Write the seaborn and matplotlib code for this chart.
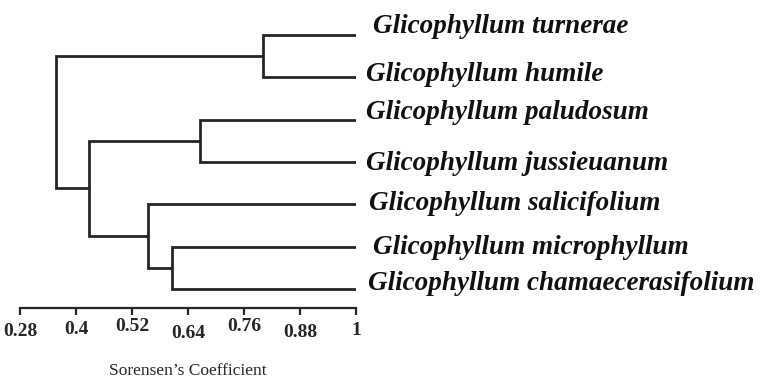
import matplotlib
matplotlib.use("Agg")
import matplotlib.pyplot as plt
import matplotlib.transforms as mtransforms
import seaborn as sns
import pandas as pd

# ---- data ----
leaves = ["Glicophyllum turnerae", "Glicophyllum humile", "Glicophyllum paludosum",
          "Glicophyllum jussieuanum", "Glicophyllum salicifolium",
          "Glicophyllum microphyllum", "Glicophyllum chamaecerasifolium"]
# merges: node ids 0-6 are leaves, new clusters numbered from 7
merge_left = [0, 2, 5, 4, 8, 7]
merge_right = [1, 3, 6, 9, 10, 11]
merge_height = [0.800, 0.665, 0.605, 0.554, 0.428, 0.357]
tick_values = [0.28, 0.4, 0.52, 0.64, 0.76, 0.88, 1]
tick_labels = ["0.28", "0.4", "0.52", "0.64", "0.76", "0.88", "1"]
x_label = "Sorensen\u2019s Coefficient"

# ---- build dendrogram paths ----
n = len(leaves)
node_x = {i: 1.0 for i in range(n)}
node_y = {i: n - 1 - i for i in range(n)}
rows = []
for k, (a, b, h) in enumerate(zip(merge_left, merge_right, merge_height)):
    nid = n + k
    pts = [(node_x[a], node_y[a]), (h, node_y[a]), (h, node_y[b]), (node_x[b], node_y[b])]
    for j, (px, py) in enumerate(pts):
        rows.append({"x": px, "y": py, "seg": k, "order": j})
    node_x[nid] = h
    node_y[nid] = (node_y[a] + node_y[b]) / 2
df = pd.DataFrame(rows)

sns.set_style("white")
plt.rcParams["font.family"] = ["Liberation Serif", "DejaVu Serif"]

fig = plt.figure(figsize=(7.63, 3.78), dpi=100)
ax = fig.add_axes([20 / 763, 70 / 378, 336 / 763, 294.2 / 378])

sns.lineplot(data=df, x="x", y="y", units="seg", estimator=None, sort=False,
             color="#262626", linewidth=2.0, ax=ax, legend=False)
for line in ax.lines:
    line.set_solid_joinstyle("miter")
    line.set_solid_capstyle("butt")

ax.set_xlim(0.28, 1.0)
ax.set_ylim(-0.449, 6.5)

# leaf labels (layout offsets in pixels)
dx_px = [17, 10, 10, 10, 13, 17, 12]
dy_px = [8, 3, 7, -2, 1, -1, 5]
for i, name in enumerate(leaves):
    ax.annotate(name, xy=(1.0, node_y[i]), xytext=(dx_px[i] * 0.72, dy_px[i] * 0.72),
                textcoords="offset points", ha="left", va="center",
                fontsize=19.5, fontweight="bold", fontstyle="italic",
                annotation_clip=False, color="#111111")

for s in ["top", "right", "left"]:
    ax.spines[s].set_visible(False)
ax.spines["bottom"].set_linewidth(1.6)
ax.spines["bottom"].set_color("#262626")
ax.set_yticks([])
ax.set_ylabel("")
ax.set_xticks(tick_values)
ax.set_xticklabels(tick_labels, fontsize=14, fontweight="bold")
ax.tick_params(axis="x", bottom=True, direction="out", length=5, width=1.6,
               color="#262626", pad=5)
# small vertical jitter of tick labels as in the reference (pixels, + = down)
tick_dy = [1, -1, -4, 3, -4, 2, 0]
for lab, d in zip(ax.get_xticklabels(), tick_dy):
    lab.set_transform(lab.get_transform() +
                      mtransforms.ScaledTranslation(0, -d / 100, fig.dpi_scale_trans))
ax.set_xlabel(x_label, fontsize=12.5, labelpad=15)

fig.savefig("out.png", dpi=100)
